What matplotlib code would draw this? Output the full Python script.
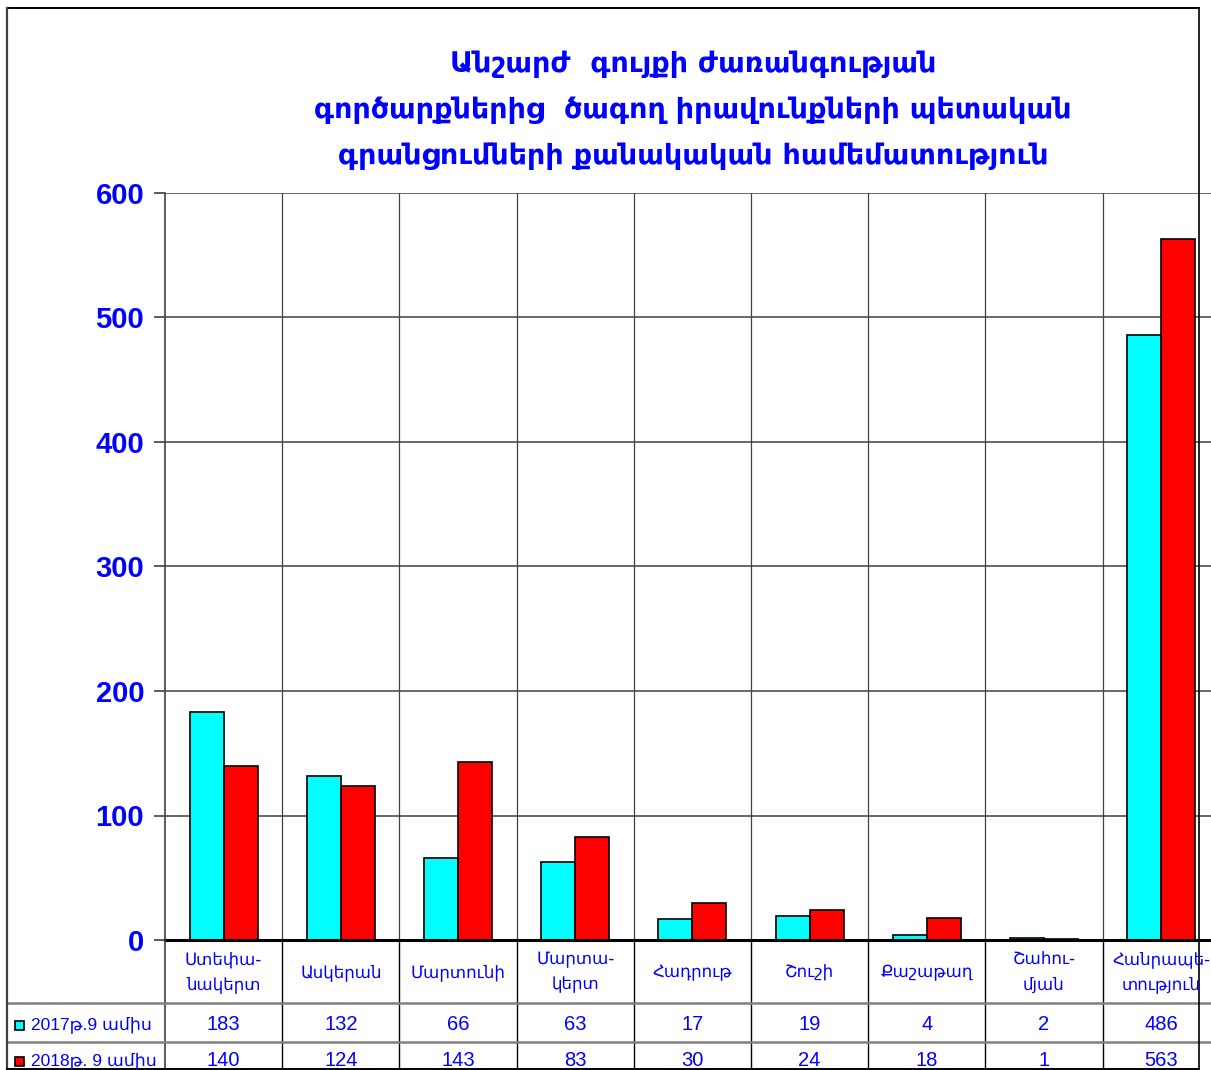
import numpy as np
import matplotlib.pyplot as plt
import matplotlib.transforms as mtransforms
from matplotlib.lines import Line2D
from matplotlib.patches import Rectangle

# --------------------------

categories = ["Ստեփա-\nնակերտ", "Ասկերան", "Մարտունի", "Մարտա-\nկերտ", "Հադրութ",
              "Շուշի", "Քաշաթաղ", "Շահու-\nմյան", "Հանրապե-\nտություն"]
values_2017 = [183, 132, 66, 63, 17, 19, 4, 2, 486]
values_2018 = [140, 124, 143, 83, 30, 24, 18, 1, 563]
series_names = ["2017թ.9 ամիս", "2018թ. 9 ամիս"]
series_colors = ["#00FFFF", "#FF0000"]
yticks = [0, 100, 200, 300, 400, 500, 600]
title_lines = ["Անշարժ  գույքի ժառանգության",
               "գործարքներից  ծագող իրավունքների պետական",
               "գրանցումների քանակական համեմատություն"]

plt.rcParams["font.family"] = ["Liberation Sans", "DejaVu Sans"]

W, H = 1211, 1070
fig = plt.figure(figsize=(W / 100, H / 100), dpi=100)


def fx(px):
    return px / W


def fy(py):
    return 1 - py / H


left, right, top, bottom = 165, 165 + 9 * 117.2, 193, 940
ax = fig.add_axes([fx(left), fy(bottom), fx(right - left), (bottom - top) / H])

x = np.arange(len(categories))
bw = 0.29
ax.bar(x - bw / 2, values_2017, bw, color=series_colors[0], edgecolor="black", linewidth=1.2, zorder=3)
ax.bar(x + bw / 2, values_2018, bw, color=series_colors[1], edgecolor="black", linewidth=1.2, zorder=3)

ax.set_xlim(-0.5, len(categories) - 0.5)
ax.set_ylim(0, 600)
ax.set_yticks(yticks)
ax.set_yticklabels([str(v) for v in yticks], color="#0000FF", fontsize=21, fontweight="bold")
ax.tick_params(axis="y", length=8, width=1.2, color="#404040", pad=7)
ax.set_xticks([])
for yv in yticks[1:]:
    ax.axhline(yv, color="#404040", linewidth=1.1, zorder=1)
for xv in np.arange(0.5, len(categories), 1):
    ax.axvline(xv, color="#404040", linewidth=0.9, zorder=1)
for s in ["top", "right"]:
    ax.spines[s].set_visible(False)
ax.spines["left"].set_color("#404040")
ax.spines["left"].set_linewidth(1.2)
ax.spines["bottom"].set_color("black")
ax.spines["bottom"].set_linewidth(2.2)
ax.spines["bottom"].set_zorder(4)

# title
for i, line in enumerate(title_lines):
    fig.text(fx(693), fy(64 + i * 46), line, ha="center", va="center",
             color="#0000FF", fontsize=20.5, fontweight="bold", family=["DejaVu Sans"])

# data table under the axis
tr = mtransforms.blended_transform_factory(ax.transData, fig.transFigure)
for i, cat in enumerate(categories):
    fig.text(i, fy(972), cat, transform=tr, ha="center", va="center", color="#0000FF",
             fontsize=12, linespacing=1.5, family=["DejaVu Sans"])
    fig.text(i, fy(1025), str(values_2017[i]), transform=tr, ha="center", va="center",
             color="#0000FF", fontsize=14.5)
    fig.text(i, fy(1061), str(values_2018[i]), transform=tr, ha="center", va="center",
             color="#0000FF", fontsize=14.5)

for xv in np.arange(0.5, len(categories) - 1, 1):
    fig.add_artist(Line2D([xv, xv], [fy(bottom), 0], transform=tr, color="black", linewidth=1))
fig.add_artist(Line2D([fx(165), fx(165)], [fy(bottom), 0], color="#404040", linewidth=1.2))
for py in [1003, 1042]:
    fig.add_artist(Line2D([fx(8), 1], [fy(py), fy(py)], color="#808080", linewidth=1.8))

for j, (name, col) in enumerate(zip(series_names, series_colors)):
    py = 1025 + j * 36
    fig.add_artist(Rectangle((fx(15), fy(py + 5)), fx(9), 9 / H, facecolor=col,
                             edgecolor="black", linewidth=1.2))
    fig.text(fx(31), fy(py), name, ha="left", va="center", color="#0000FF",
             fontsize=12.5)

# outer frame
fig.add_artist(Line2D([fx(7), fx(1199)], [fy(8), fy(8)], color="black", linewidth=1.4))
fig.add_artist(Line2D([fx(7), fx(7)], [fy(8), 0], color="#404040", linewidth=1.6))
fig.add_artist(Line2D([fx(1199), fx(1199)], [fy(8), 0], color="black", linewidth=1.2))
fig.add_artist(Line2D([fx(7), fx(1199)], [fy(1069), fy(1069)], color="black", linewidth=1.4))

fig.savefig("out.png", dpi=100)
